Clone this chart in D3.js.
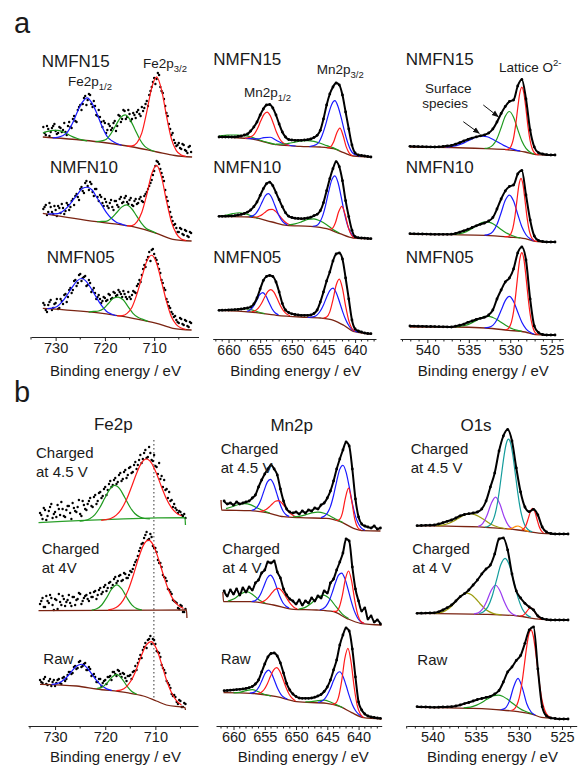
<!DOCTYPE html>
<html>
<head>
<meta charset="utf-8">
<title>XPS Fe2p / Mn2p / O1s</title>
<script src="https://cdn.jsdelivr.net/npm/d3@7"></script>
<style>
  body { margin: 0; background: #fff; }
  svg text { font-family: "Liberation Sans", Arial, sans-serif; fill: #1a1a1a; }
</style>
</head>
<body>
<script>
// ---------- tick values ----------
var feTicks = [730, 720, 710];
var feMinor = [735, 725, 715, 705];
var mnTicks = [660, 655, 650, 645, 640];
var mnMinor = [662, 661, 659, 658, 657, 656, 654, 653, 652, 651, 649, 648, 647, 646, 644, 643, 642, 641, 639, 638, 637];
var oTicks = [540, 535, 530, 525];
var oMinor = [543, 542, 541, 539, 538, 537, 536, 534, 533, 532, 531, 529, 528, 527, 526, 524];

// ---------- Fe 2p, panel a (scan 1: 732.5 -> 702.5 eV, scan 2: 732.25 -> 702.75 eV, 0.5 eV step) ----------
var feA15 = [30,22,28,25,31,26,24,29,27,25, 31,30,38,36,47,52,53,61,57,62, 50,51,41,40,30,34,27,31,29,36, 31,41,38,46,40,43,38,42,45,43, 50,49,56,62,70,79,78,82,66,58, 44,33,22,17,11,14,8,12,6,10,5];
var feA15b = [24,31,21,29,33,23,30,25,34,22, 35,29,41,35,50,47,59,52,63,53, 56,42,47,35,36,24,33,27,34,26, 42,35,47,38,47,36,44,39,47,41, 46,53,51,66,75,73,84,70,64,51, 41,28,24,14,12,9,13,7,4,11];
var feA15Bg = [[732.6,20],[721,15],[714.3,10],[709.4,5],[705.8,1.5],[702.3,0]];
var feA15Sat2 = {from: 732.6, step: 1, h: [4,6,7.5,8,7,5,3,1.5,0.5,0]};
var feA15P12 = {from: 730.6, step: 1, h: [0,1,3,7,16,28,38,43,38,28,16,7,3,1,0]};
var feA15Sat = {from: 721.9, step: 1, h: [0,1,3,9,18,27,31,27,18,9,3,1,0]};
var feA15P32 = {from: 715.5, step: 1, h: [0,1,5,16,38,63,75,63,38,16,5,1,0]};

var feA10 = [32,36,29,34,27,31,35,28,33,30, 36,34,42,45,44,52,50,58,55,59, 49,52,44,46,38,42,35,38,34,40, 36,42,38,43,39,41,36,40,37,42, 40,45,49,55,61,70,80,77,68,60, 44,34,24,16,13,9,12,6,10,4,8];
var feA10b = [34,26,38,29,35,25,33,37,27,38, 31,40,36,47,41,54,48,60,51,57, 45,52,40,44,35,39,33,41,31,40, 34,44,39,45,37,43,35,42,38,44, 39,47,52,58,66,75,79,72,64,51, 40,29,20,17,9,13,7,11,5,9];
var feA10Bg = [[732.6,27.7],[721.7,19.3],[714.3,14.3],[709.5,7.7],[706.2,1.7],[702.4,0]];
var feA10P12 = {from: 731.6, step: 1, h: [0,1,2,5,10,17,24,31,33,31,24,17,10,5,2,1,0]};
var feA10Sat = {from: 721.6, step: 1, h: [0,1,2,6,12,18,21,18,12,6,2,1,0]};
var feA10P32 = {from: 715.5, step: 1, h: [0,1,6,17,36,58,68,58,36,17,6,1,0]};

var feA05 = [27,20,25,30,22,27,21,31,26,36, 33,42,40,50,47,56,52,54,45,47, 40,37,33,31,29,32,30,35,32,37, 35,38,33,36,31,33,35,38,44,50, 55,65,70,78,80,76,70,61,50,42, 31,24,18,13,10,7,11,5,9,3,7];
var feA05b = [25,18,28,20,26,31,22,29,35,28, 40,37,49,44,55,49,53,44,50,38, 42,31,35,27,33,29,36,31,38,34, 40,36,39,33,38,31,39,37,46,48, 61,63,73,69,81,72,66,57,47,40, 28,22,16,14,8,12,6,10,4,8];
var feA05Bg = [[732.6,21.7],[721.7,17.3],[714.3,11.7],[709.5,6.7],[706.2,1.7],[702.4,0]];
var feA05P12 = {from: 731.7, step: 1, h: [0,1,3,8,15,23,30,33,30,23,15,8,3,1,0]};
var feA05Sat = {from: 723.3, step: 1, h: [0,1,2,5,11,17,19,17,11,5,2,1,0]};
var feA05P32 = {from: 717.5, step: 1, h: [0,1,4,11,25,43,60,67,60,43,25,11,4,1,0]};

// ---------- Mn 2p, panel a (data: 661.5 -> 637.5 eV, 0.5 eV step) ----------
var mnA15 = [20,20,20,20,20,20,20.5,21,22,23, 26,30,35,42,48,52,52.5,49,42,33, 25,20,17.5,17,16.7,16.7,16.7,17,17.3,18, 19.5,21.7,26.7,38,52,63,70,74,72,62, 45,28,12,4,2,1.5,1,0.5,0];
var mnA15Bg = [[661.5,20],[656.6,18.3],[652.4,12.3],[648.7,10.7],[645.5,10],[643.4,8.3],[641.8,4.3],[640.3,1],[637.4,0]];
var mnA15Sat12 = {from: 661.5, step: 1, h: [1.2,2,2.7,3,2.7,2,1.2,0.5,0.2,0]};
var mnA15Red12 = {from: 657.4, step: 0.5, h: [0,0.8,2.4,5.9,12.1,20.3,27.5,30.5,27.5,20.3,12.1,5.9,2.4,0.8,0]};
var mnA15Blue12 = {from: 657.4, step: 1, h: [0,0.3,1.5,4.2,6,4.2,1.5,0.3,0]};
var mnA15Sat32 = {from: 652.5, step: 1, h: [0.4,1,2.2,3.8,5.4,6,5.4,3.8,2.2,1,0.4]};
var mnA15Blue32 = {from: 647.2, step: 0.5, h: [0,1,2,5,12,22,34,44,48.5,44,34,22,12,5,2,1,0]};
var mnA15Red32 = {from: 644.4, step: 0.5, h: [0,1.4,6.7,17,23,17,6.7,1.4,0]};

var mnA10 = [22.4,22.4,22.5,22.6,22.7,23,23.7,24.3,25.2,26.5, 28.7,32,36.7,43.3,50,55,56.5,53,46,39, 32,26,22.5,21.2,20.5,20.2,20,20.2,20.7,21.5, 23,24.4,28,36,48,60,70,77,72,58, 38,22,8.5,2,1,0.7,0.5,0.2,0];
var mnA10Bg = [[661.5,22.4],[656.6,21.7],[653.1,16.7],[650.8,13.4],[647.1,12.4],[644.5,10],[642.4,5],[640.3,0.7],[637.4,0]];
var mnA10Sat12 = {from: 661.3, step: 1, h: [0.3,1.3,3,4,3,1.3,0.3]};
var mnA10Blue12 = {from: 656.7, step: 0.5, h: [0.5,1.7,4.7,10.1,17.6,24.6,27.5,24.6,17.6,10.1,4.7,1.7,0.5]};
var mnA10Red12 = {from: 656.1, step: 0.5, h: [0.5,1.4,3.1,5.7,8.9,11.6,12.7,11.6,8.9,5.7,3.1,1.4,0.5]};
var mnA10Sat32 = {from: 650.5, step: 1, h: [0.5,1.7,4,6.7,8,6.7,4,1.7,0.5]};
var mnA10Blue32 = {from: 646.7, step: 0.5, h: [0.4,1.4,4.3,10.9,22.2,37.2,50.5,56,50.5,37.2,22.2,10.9,4.3,1.4,0.4]};
var mnA10Red32 = {from: 644.1, step: 0.5, h: [0.4,2.4,9.5,21.4,28,21.4,9.5,2.4,0.4]};

var mnA05 = [23.7,23.8,23.9,24,24.2,24.4,24.6,25,25.5,26, 27,30,36,45,53.5,57.5,58.5,57.5,52,42, 30.5,24,21.5,20.2,19.5,19,18.7,18.7,18.7,19, 20.5,24,32,42,53,62,73,80,81,75, 56,35,14,5,3,2,1,0.5,0.3];
var mnA05Bg = [[661.3,23.7],[656.6,22],[652.4,18.7],[648.7,17],[645.5,16],[643.4,13.7],[641.8,8.7],[640.3,2.7],[637.4,0]];
var mnA05Sat12 = {from: 660.3, step: 1, h: [0.2,1,2.3,3,2.3,1,0.2]};
var mnA05Blue12 = {from: 657.1, step: 0.5, h: [0.6,2.1,5.8,11.8,18.2,21,18.2,11.8,5.8,2.1,0.6]};
var mnA05Red12 = {from: 656.3, step: 0.5, h: [0.6,1.9,4.9,9.9,16.6,22.6,25,22.6,16.6,9.9,4.9,1.9,0.6]};
var mnA05Blue32 = {from: 647.5, step: 0.5, h: [0,0.3,1,3,7,13.6,21.9,29,32,29,21.9,13.6,7,3,1,0.3,0]};
var mnA05Red32 = {from: 645, step: 0.5, h: [0.4,2,7.8,20.4,36.3,44,36.3,20.4,7.8,2,0.4]};

// ---------- O 1s, panel a (data: 542.1 -> 524.6 eV, 0.5 eV step) ----------
var oA15 = [8.7,8.5,8.4,8.3,8.2,8.1,8,8.2,8.6,9.1, 9.6,10.8,12.3,14,15.6,16.9,18.1,19.2,20.1,22, 26,33,41.5,48.5,53.5,55,69,75.5,56,25, 8,2.3,1,0.3,0,0];
var oA15Bg = [[542.1,8],[537,7.5],[533,6.3],[530.4,5.3],[528.2,3],[526.9,0.3],[525.8,0],[524.6,0]];
var oA15Surf = {from: 537.8, step: 0.5, h: [0.4,0.8,1.5,2.6,4.2,6.3,8.5,10.5,12,12.5,12,10.5,8.5,6.3,4.2,2.6,1.5,0.8,0.4]};
var oA15Mid = {from: 533.1, step: 0.5, h: [0.2,1.1,3.9,10.6,21.7,33.3,38.5,33.3,21.7,10.6,3.9,1.1,0.2]};
var oA15Lat = {from: 530.6, step: 0.25, h: [0,0.4,1.6,5,12.5,25.6,42.8,58.2,64.5,58.2,42.8,25.6,12.5,5,1.6,0.4,0]};

var oA10 = [8.3,8.2,8.1,8,7.9,7.8,7.7,7.7,7.7,7.7, 7.8,8.5,9.8,11.2,12.8,14.5,16.2,17.7,19,21, 24.5,33,43,51,55.5,57,68,71.5,47,22, 6,1.5,0.5,0,0,0];
var oA10Bg = [[542.1,7.7],[537,7.3],[533,6.7],[530.2,5],[528.2,3.3],[527,0.7],[525.8,0],[524.6,0]];
var oA10Surf = {from: 536.8, step: 0.5, h: [0.4,0.8,1.8,3.3,5.5,8.1,10.8,12.8,13.5,12.8,10.8,8.1,5.5,3.3,1.8,0.8,0.4]};
var oA10Mid = {from: 533.1, step: 0.5, h: [0.2,1.2,4.2,11.6,23.7,36.4,42,36.4,23.7,11.6,4.2,1.2,0.2]};
var oA10Lat = {from: 530.7, step: 0.25, h: [0,0.2,0.8,3,8.8,20.3,37,53.2,60,53.2,37,20.3,8.8,3,0.8,0.2,0]};

var oA05 = [9,8.9,8.8,8.7,8.6,8.5,8.4,8.3,8.2,8.1, 8,8.8,9.8,10.8,12.7,14,15.5,16.7,17.8,20, 25,36,45,53,57,66,82,88,75,36, 9,2.5,0.5,0,0,0];
var oA05Bg = [[542.1,8],[537,8],[533,7],[530.2,4.7],[528.2,3],[527,0.3],[525.8,0],[524.6,0]];
var oA05Surf = {from: 536.6, step: 0.5, h: [0.3,0.8,1.6,2.9,4.9,7.2,9.6,11.3,12,11.3,9.6,7.2,4.9,2.9,1.6,0.8,0.3]};
var oA05Mid = {from: 533.1, step: 0.5, h: [0.2,1,3.4,9.4,19.2,29.4,34,29.4,19.2,9.4,3.4,1,0.2]};
var oA05Lat = {from: 530.6, step: 0.25, h: [0.3,1,3.3,8.7,19.2,35.6,55.4,72.3,79,72.3,55.4,35.6,19.2,8.7,3.3,1,0.3]};

// ---------- Fe 2p, panel b (scan 1: 733 -> 704 eV, scan 2: 732.75 -> 704.25 eV, 0.5 eV step) ----------
var feB45 = [12,6,15,9,18,7,13,20,10,16, 8,19,12,22,14,18,11,24,16,21, 27,18,30,24,33,29,38,35,44,40, 47,43,52,46,55,50,58,53,63,60, 70,66,75,68,72,64,59,51,46,38, 35,27,24,18,17,12,13,9,7];
var feB45b = [10,17,5,14,21,11,8,16,23,9, 15,19,6,17,13,25,9,20,15,24, 19,28,21,32,27,36,30,41,38,45, 41,50,44,53,47,57,52,60,56,65, 62,72,67,78,65,70,58,62,49,45, 36,33,25,21,15,14,10,11];
var feB45Bg = [[733.3,2.3],[704.1,7.3],[704,0]];
var feB45Sat = {from: 725.1, step: 1, h: [0.1,0.6,2.2,5.9,12.8,22.2,31,34.7,31,22.2,12.8,5.9,2.2,0.6,0.1]};
var feB45P32 = {from: 720.8, step: 1, h: [0.2,0.7,2,4.9,10.5,19.6,32,45.4,56,60,56,45.4,32,19.6,10.5,4.9,2]};

var feB4 = [14,20,11,17,23,13,19,9,16,22, 12,18,15,21,13,19,24,17,22,19, 25,21,27,23,30,26,33,30,36,33, 41,37,43,38,44,40,47,49,56,62, 70,75,83,78,84,72,70,58,55,43, 40,29,26,18,16,10,13,6,9];
var feB4b = [17,11,22,15,20,8,18,24,13,19, 16,23,12,21,18,25,14,20,23,17, 21,26,19,28,24,31,27,35,30,39, 35,42,37,45,40,43,46,53,58,67, 74,80,86,79,81,70,66,55,51,41, 37,28,24,17,15,9,12,6];
var feB4Bg = [[733.3,7.3],[703.8,8],[703.7,0]];
var feB4Sat = {from: 722.7, step: 1, h: [0.3,1.6,5.4,12.8,21.4,25.5,21.4,12.8,5.4,1.6,0.3]};
var feB4P32 = {from: 719.4, step: 1, h: [0.5,1.6,4.4,10.2,20.4,35,51.5,64.8,70,64.8,51.5,35,20.4,10.2,4.4,1.6]};

var feBraw = [30,27,33,25,31,28,24,30,27,32, 29,35,38,37,44,42,49,44,47,40, 41,35,33,28,31,27,30,33,34,38, 36,40,36,37,32,34,35,38,44,47, 55,60,67,70,74,71,66,58,53,42, 37,27,22,14,13,6,9,3,6];
var feBrawb = [28,31,26,29,24,30,27,31,26,33, 31,38,36,43,41,48,43,46,40,43, 34,36,28,31,24,29,26,33,30,38, 34,39,33,36,29,34,31,39,40,51, 52,63,62,71,66,70,59,57,45,40, 29,25,16,15,8,10,3,7];
var feBrawBg = [[733,25.7],[725.7,24],[721.7,21],[715.7,17.3],[712.4,14],[709.8,9],[707.8,5],[704.1,2.3],[704,0]];
var feBrawP12 = {from: 730.7, step: 1, h: [0.4,1.4,3.8,8.3,14.4,20.1,22.5,20.1,14.4,8.3,3.8,1.4,0.4]};
var feBrawSat = {from: 721.7, step: 1, h: [0.5,2.2,6.9,13.5,17,13.5,6.9,2.2,0.5]};
var feBrawP32 = {from: 717.8, step: 1, h: [0.7,2.1,5.8,13.3,25.2,39.8,52.4,57.5,52.4,39.8,25.2,13.3,5.8,2.1]};
var feRefBE = 710.3;

// ---------- Mn 2p, panel b (data: 661.5 -> 636.5 eV, 0.5 eV step) ----------
var mnB45 = [30,27,28,26,29,27,28,29,30,33, 36,44,51,57,62,66,62,56,42,30, 22,19,18,19,17,20,18,21,20,23, 22,26,28,33,40,50,62,72,81,89, 85,62,32,14,7,5,4,3,5,2, 3];
var mnB45Bg = [[662,31],[661.9,21],[657.3,20.3],[654.7,18.3],[652,14.3],[649.3,13.3],[645.1,12.7],[642.9,9.3],[640.8,2.7],[639.2,0.3],[636.5,0]];
var mnB45Sat12 = {from: 661.2, step: 1, h: [1.5,3.5,5.9,7,5.9,3.5,1.5,0.4]};
var mnB45Blue12 = {from: 657.1, step: 0.5, h: [0.6,2.1,5.8,12.6,22,30.7,34.3,30.7,22,12.6,5.8,2.1,0.6]};
var mnB45Red12 = {from: 655.8, step: 0.5, h: [0.5,1.4,3.2,6.3,10.1,13.5,14.8,13.5,10.1,6.3,3.2,1.4,0.5]};
var mnB45Sat32 = {from: 650.5, step: 1, h: [0.4,1.3,3,5,6,5,3,1.3,0.4]};
var mnB45Blue32 = {from: 646, step: 0.5, h: [0.6,1.9,5.4,12.6,24.5,39.5,52.4,57.7,52.4,39.5,24.5,12.6,5.4,1.9,0.6]};
var mnB45Red32 = {from: 643.6, step: 0.5, h: [0.1,1.6,9.2,26.4,37.7,26.4,9.2,1.6,0.1]};

var mnB4 = [34,29,35,31,36,30,37,33,38,35, 42,45,52,55,63,62,64,53,47,36, 30,26,24,21,25,20,24,22,27,24, 29,27,34,32,42,46,55,63,72,86, 84,58,36,24,14,17,6,9,3,5, 1];
var mnB4Bg = [[661.7,33],[661.6,23.3],[657.3,23.3],[653.6,20],[650.4,15.7],[646.7,15],[644,13.3],[641.9,6.7],[639.7,1.7],[636.3,0]];
var mnB4Sat12 = {from: 660.9, step: 1, h: [0.6,2.9,7.4,10,7.4,2.9,0.6]};
var mnB4Blue12 = {from: 657.1, step: 0.5, h: [0.4,1.5,4.3,10,18.2,26.1,29.5,26.1,18.2,10,4.3,1.5,0.4]};
var mnB4Red12 = {from: 655.8, step: 0.5, h: [0.7,1.9,4.3,8,12.4,16.2,17.7,16.2,12.4,8,4.3,1.9,0.7]};
var mnB4Sat32 = {from: 649.6, step: 1, h: [0.4,2,6.3,12.4,15.5,12.4,6.3,2,0.4]};
var mnB4Blue32 = {from: 646.2, step: 0.5, h: [0.5,1.8,4.7,10.4,19.2,29.9,39,42.7,39,29.9,19.2,10.4,4.7,1.8,0.5]};
var mnB4Red32 = {from: 644.1, step: 0.5, h: [0.2,1.6,7,20.4,38.7,48,38.7,20.4,7,1.6,0.2]};

var mnBraw = [28.3,28.5,28.8,29.1,29.4,29.7,30.1,30.6,31.3,32.5, 35,39,47,55,62,65.5,66,63,56,46, 35.5,29,25,22.5,21,20.7,20.7,20.7,21,21.8, 23,24.5,27.5,32,39,49,59,74,84,91, 88,70,42,17,9,5,3,2,1.5,1, 0.7];
var mnBrawBg = [[661.6,26.3],[657.3,25.7],[653.1,22.3],[649.9,17.3],[645.1,15.7],[642.9,12.3],[641.1,6.3],[639.2,1.3],[636.3,0]];
var mnBrawSat12 = {from: 660, step: 1, h: [0.1,0.7,2.6,4,2.6,0.7,0.1]};
var mnBrawBlue12 = {from: 657.4, step: 0.5, h: [0.2,1,3.2,7.9,15.2,22.4,25.6,22.4,15.2,7.9,3.2,1,0.2]};
var mnBrawRed12 = {from: 656.1, step: 0.5, h: [0.7,2.2,5.6,11.5,19.3,26.2,29,26.2,19.3,11.5,5.6,2.2,0.7]};
var mnBrawSat32 = {from: 648.5, step: 1, h: [0.2,1,2.2,3,2.2,1,0.2]};
var mnBrawBlue32 = {from: 646.5, step: 0.5, h: [0.4,1.5,3.8,8.5,15.7,24.4,31.8,34.8,31.8,24.4,15.7,8.5,3.8,1.5,0.4]};
var mnBrawRed32 = {from: 644.2, step: 0.5, h: [0.3,2.1,9.1,26.5,50.3,62.3,50.3,26.5,9.1,2.1,0.3]};

// ---------- O 1s, panel b (data: 541.8 -> 524.3 eV, 0.5 eV step) ----------
var oB45 = [8.3,8.5,8.7,8.8,9,10,11.3,12.7,14,16, 18.2,19.5,20.3,21,22,25,33,47,61,83, 98,104.5,93,66,42,27,22.3,24.7,19,7, 2,0.5,0,0,0,0];
var oB45Bg = [[541.9,8.3],[533.9,6.7],[530.1,4],[527.4,0.7],[524.3,0]];
var oB45Olive = {from: 539.6, step: 0.5, h: [0.4,0.8,1.7,3.2,5.3,7.9,10.5,12.5,13.2,12.5,10.5,7.9,5.3,3.2,1.7,0.8,0.4]};
var oB45Purple = {from: 534.7, step: 0.5, h: [0.7,3.6,11.9,24.4,31,24.4,11.9,3.6,0.7]};
var oB45Teal = {from: 533.95, step: 0.25, h: [0.3,0.7,1.9,4.2,8.6,16,27.1,41.8,58.4,74.3,85.8,90,85.8,74.3,58.4,41.8,27.1,16,8.6,4.2,1.9,0.7,0.3]};
var oB45Orange = {from: 531.35, step: 0.25, h: [0.1,0.4,1.1,2.3,3.5,4,3.5,2.3,1.1,0.4,0.1]};
var oB45Red = {from: 529.65, step: 0.25, h: [0.6,2.4,6.5,13.4,20.5,23.7,20.5,13.4,6.5,2.4,0.6]};

var oB4 = [6.7,6.8,6.9,7,7.2,8.2,10,12.3,15,19, 23.3,26.3,30,35,40,46,51,55,66,81, 82,70,46,29,22,16.7,13,10,4,1.5, 0.5,0,0,0,0,0];
var oB4Bg = [[541.9,6.7],[533.9,5.7],[530.1,4],[527.4,0.7],[524.3,0]];
var oB4Olive = {from: 540, step: 0.5, h: [0.1,0.5,1.3,3.1,6.1,10.5,15.4,19.4,21,19.4,15.4,10.5,6.1,3.1,1.3,0.5,0.1]};
var oB4Purple = {from: 535.2, step: 0.5, h: [0.2,1.4,5.3,13.7,24.4,29.6,24.4,13.7,5.3,1.4,0.2]};
var oB4Teal = {from: 534.6, step: 0.5, h: [0.6,2.5,7.6,18.4,34.5,50.3,57,50.3,34.5,18.4,7.6,2.5,0.6]};
var oB4Red = {from: 529.85, step: 0.25, h: [0.3,1,2.8,5.6,8.7,10,8.7,5.6,2.8,1,0.3]};

var oBraw = [12.3,12.1,12,11.8,11.7,11.8,12,12.1,12.3,13, 14,15.4,16.5,18,19.5,20.5,21.6,22.6,25,28.5, 37,47,52,58.5,63.5,75.7,89,92,50,12.3, 3,1,0.5,0,0,0];
var oBrawBg = [[541.8,11.7],[535.8,10.7],[532,9],[530.1,7.3],[528.5,5],[527.4,1.7],[524.3,0]];
var oBrawGreen = {from: 536.4, step: 0.5, h: [0.4,0.9,1.9,3.6,6,8.8,11.7,13.9,14.7,13.9,11.7,8.8,6,3.6,1.9,0.9,0.4]};
var oBrawBlue = {from: 532.1, step: 0.5, h: [0.2,2.1,9.7,24.5,33.4,24.5,9.7,2.1,0.2]};
var oBrawRed = {from: 530.85, step: 0.25, h: [0.6,1.8,4.5,9.7,18.8,32.2,49,66.1,79.1,84,79.1,66.1,49,32.2,18.8,9.7,4.5,1.8,0.6]};

// ---------- colours ----------
var RED = "#ff1a1a", BLUE = "#1a1aff", GREEN = "#1f9a1f", BROWN = "#7a2412",
    TEAL = "#139c9c", PURPLE = "#9a3cf0", OLIVE = "#9c9c10", ORANGE = "#ff8c00", LGREEN = "#2aa02a";

var W = 587, H = 769;
var svg = d3.select("body").append("svg").attr("width", W).attr("height", H);

svg.append("defs").append("marker")
  .attr("id", "arr").attr("viewBox", "0 0 10 10").attr("refX", 9).attr("refY", 5)
  .attr("markerWidth", 7).attr("markerHeight", 7).attr("orient", "auto")
  .append("path").attr("d", "M0,1L10,5L0,9z").attr("fill", "#111");

var panels = [
  { be: [735, 701], x0: 31, x1: 198.5, axisY: 337, ticks: feTicks, minor: feMinor, tf: 14.5, tx: 115.5, ty: 376, lineData: false,
    spectra: [
      { off: 180, start: 732.5, data: feA15, data2: feA15b, bg: feA15Bg, bgc: BROWN, lab: [["NMFN15", 41.7, 66.5]],
        comps: [[feA15Sat2, GREEN], [feA15P12, BLUE], [feA15Sat, GREEN], [feA15P32, RED]] },
      { off: 96, start: 732.5, data: feA10, data2: feA10b, bg: feA10Bg, bgc: BROWN, lab: [["NMFN10", 50, 173.3]],
        comps: [[feA10P12, BLUE], [feA10Sat, GREEN], [feA10P32, RED]] },
      { off: 7, start: 732.5, data: feA05, data2: feA05b, bg: feA05Bg, bgc: BROWN, lab: [["NMFN05", 46.7, 263]],
        comps: [[feA05P12, BLUE], [feA05Sat, GREEN], [feA05P32, RED]] }
    ] },
  { be: [662.5, 636.7], x0: 212.7, x1: 376, axisY: 339, ticks: mnTicks, minor: mnMinor, tf: 14, tx: 295.8, ty: 376, lineData: true,
    spectra: [
      { off: 182, start: 661.5, data: mnA15, bg: mnA15Bg, bgc: BROWN, lab: [["NMFN15", 213.3, 65]],
        comps: [[mnA15Sat12, GREEN], [mnA15Blue12, BLUE], [mnA15Red12, RED], [mnA15Sat32, GREEN], [mnA15Blue32, BLUE], [mnA15Red32, RED]] },
      { off: 100.3, start: 661.5, data: mnA10, bg: mnA10Bg, bgc: BROWN, lab: [["NMFN10", 213.3, 173]],
        comps: [[mnA10Sat12, GREEN], [mnA10Red12, RED], [mnA10Blue12, BLUE], [mnA10Sat32, GREEN], [mnA10Blue32, BLUE], [mnA10Red32, RED]] },
      { off: 5, start: 661.5, data: mnA05, bg: mnA05Bg, bgc: BROWN, lab: [["NMFN05", 213.3, 263]],
        comps: [[mnA05Sat12, GREEN], [mnA05Blue12, BLUE], [mnA05Red12, RED], [mnA05Blue32, BLUE], [mnA05Red32, RED]] }
    ] },
  { be: [543.3, 523.6], x0: 400, x1: 563.3, axisY: 339, ticks: oTicks, minor: oMinor, tf: 14.5, tx: 483.3, ty: 376, lineData: true,
    spectra: [
      { off: 184, start: 542.1, data: oA15, bg: oA15Bg, bgc: BROWN, lab: [["NMFN15", 405.7, 65]],
        comps: [[oA15Surf, BLUE], [oA15Mid, GREEN], [oA15Lat, RED]] },
      { off: 97, start: 542.1, data: oA10, bg: oA10Bg, bgc: BROWN, lab: [["NMFN10", 405.7, 173]],
        comps: [[oA10Surf, GREEN], [oA10Mid, BLUE], [oA10Lat, RED]] },
      { off: 4, start: 542.1, data: oA05, bg: oA05Bg, bgc: BROWN, lab: [["NMFN05", 405.7, 263]],
        comps: [[oA05Surf, GREEN], [oA05Mid, BLUE], [oA05Lat, RED]] }
    ] },
  { be: [735.4, 701.5], x0: 28, x1: 198, axisY: 726, ticks: feTicks, minor: feMinor, tf: 14.5, tx: 115.5, ty: 762, lineData: false,
    title: ["Fe2p", 113.3, 430], ref: feRefBE,
    spectra: [
      { off: 201, start: 733, data: feB45, data2: feB45b, bg: feB45Bg, bgc: LGREEN, lab: [["Charged", 36, 458.3], ["at 4.5 V", 36, 476.7]],
        comps: [[feB45Sat, GREEN], [feB45P32, RED]] },
      { off: 108, start: 733, data: feB4, data2: feB4b, bg: feB4Bg, bgc: BROWN, lab: [["Charged", 41.7, 554], ["at 4V", 41.7, 572.7]],
        comps: [[feB4Sat, GREEN], [feB4P32, RED]] },
      { off: 16, start: 733, data: feBraw, data2: feBrawb, bg: feBrawBg, bgc: BROWN, lab: [["Raw", 43.3, 664]],
        comps: [[feBrawP12, BLUE], [feBrawSat, GREEN], [feBrawP32, RED]] }
    ] },
  { be: [662.8, 636.3], x0: 216, x1: 381.7, axisY: 726, ticks: mnTicks, minor: mnMinor, tf: 14.5, tx: 303.3, ty: 762, lineData: true,
    title: ["Mn2p", 291.7, 430.7],
    spectra: [
      { off: 195, start: 661.5, data: mnB45, bg: mnB45Bg, bgc: BROWN, lab: [["Charged", 220.7, 454], ["at 4.5 V", 220.7, 473.3]],
        comps: [[mnB45Sat12, GREEN], [mnB45Blue12, BLUE], [mnB45Red12, RED], [mnB45Sat32, GREEN], [mnB45Blue32, BLUE], [mnB45Red32, RED]] },
      { off: 101, start: 661.5, data: mnB4, bg: mnB4Bg, bgc: BROWN, lab: [["Charged", 222.3, 554], ["at 4 V", 222.3, 572.7]],
        comps: [[mnB4Sat12, GREEN], [mnB4Blue12, BLUE], [mnB4Red12, RED], [mnB4Sat32, GREEN], [mnB4Blue32, BLUE], [mnB4Red32, RED]] },
      { off: 7, start: 661.5, data: mnBraw, bg: mnBrawBg, bgc: BROWN, lab: [["Raw", 220.7, 664]],
        comps: [[mnBrawSat12, GREEN], [mnBrawBlue12, BLUE], [mnBrawRed12, RED], [mnBrawSat32, GREEN], [mnBrawBlue32, BLUE], [mnBrawRed32, RED]] }
    ] },
  { be: [543, 523.3], x0: 406.7, x1: 576.7, axisY: 726, ticks: oTicks, minor: oMinor, tf: 14.5, tx: 492.5, ty: 762, lineData: true,
    title: ["O1s", 476, 430.7],
    spectra: [
      { off: 192, start: 541.8, data: oB45, bg: oB45Bg, bgc: BROWN, lab: [["Charged", 410.7, 454], ["at 4.5 V", 410.7, 473.3]],
        comps: [[oB45Olive, OLIVE], [oB45Purple, PURPLE], [oB45Teal, TEAL], [oB45Orange, ORANGE], [oB45Red, RED]] },
      { off: 106, start: 541.8, data: oB4, bg: oB4Bg, bgc: BROWN, lab: [["Charged", 412.3, 554], ["at 4 V", 412.3, 572.7]],
        comps: [[oB4Olive, OLIVE], [oB4Purple, PURPLE], [oB4Teal, TEAL], [oB4Red, RED]] },
      { off: 7, start: 541.8, data: oBraw, bg: oBrawBg, bgc: BROWN, lab: [["Raw", 417.3, 665]],
        comps: [[oBrawGreen, GREEN], [oBrawBlue, BLUE], [oBrawRed, RED]] }
    ] }
];

panels.forEach(function(p) {
  var x = d3.scaleLinear().domain(p.be).range([p.x0, p.x1]);
  var y = d3.scaleLinear().domain([0, 300]).range([p.axisY, p.axisY - 300]);
  var g = svg.append("g");

  var axis = d3.axisBottom(x).tickValues(p.ticks).tickFormat(d3.format("d"))
    .tickSize(4).tickSizeOuter(0).tickPadding(2);
  var ga = g.append("g").attr("transform", "translate(0," + p.axisY + ")").call(axis);
  ga.select(".domain").attr("stroke", "#222");
  ga.selectAll(".tick line").attr("stroke", "#222");
  ga.selectAll("text").attr("font-size", p.tf).attr("fill", "#1a1a1a")
    .attr("font-family", "Liberation Sans, Arial, sans-serif");
  g.append("g").selectAll("line").data(p.minor).enter().append("line")
    .attr("x1", x).attr("x2", x).attr("y1", p.axisY).attr("y2", p.axisY + 2.5)
    .attr("stroke", "#222");
  g.append("text").attr("x", p.tx).attr("y", p.ty).attr("text-anchor", "middle")
    .attr("font-size", 15).text("Binding energy / eV");

  if (p.title) {
    g.append("text").attr("x", p.title[1]).attr("y", p.title[2]).attr("text-anchor", "middle")
      .attr("font-size", 17).text(p.title[0]);
  }
  if (p.ref) {
    g.append("line").attr("x1", x(p.ref)).attr("x2", x(p.ref)).attr("y1", 440).attr("y2", 698)
      .attr("stroke", "#555").attr("stroke-width", 1.2).attr("stroke-dasharray", "1.5,2.5");
  }

  p.spectra.forEach(function(s) {
    var bgf = d3.scaleLinear().domain(s.bg.map(function(d) { return d[0]; }))
      .range(s.bg.map(function(d) { return d[1]; })).clamp(true);
    var line = d3.line()
      .x(function(d) { return x(d[0]); })
      .y(function(d) { return y(d[1] + s.off); })
      .curve(d3.curveMonotoneX);
    var pts = s.data.map(function(v, i) { return [s.start - i * 0.5, v]; });
    if (s.data2) {
      pts = pts.concat(s.data2.map(function(v, i) { return [s.start - 0.25 - i * 0.5, v]; }));
    }

    function drawData() {
      if (p.lineData) {
        g.append("path").datum(pts).attr("d", line).attr("fill", "none")
          .attr("stroke", "#000").attr("stroke-width", 2);
      }
      g.append("g").selectAll("circle").data(pts).enter().append("circle")
        .attr("cx", function(d) { return x(d[0]); })
        .attr("cy", function(d) { return y(d[1] + s.off); })
        .attr("r", p.lineData ? 1.4 : 1.2).attr("fill", "#000");
    }

    if (!p.lineData) drawData();

    g.append("path").datum(s.bg).attr("d", line).attr("fill", "none")
      .attr("stroke", s.bgc).attr("stroke-width", 1.3);

    s.comps.forEach(function(c) {
      var cp = c[0].h.map(function(v, i) {
        var be = c[0].from - i * c[0].step;
        return [be, bgf(be) + v];
      });
      g.append("path").datum(cp).attr("d", line).attr("fill", "none")
        .attr("stroke", c[1]).attr("stroke-width", 1.2);
    });

    if (p.lineData) drawData();

    s.lab.forEach(function(l) {
      g.append("text").attr("x", l[1]).attr("y", l[2])
        .attr("font-size", p.title ? 15 : 17).text(l[0]);
    });
  });
});

// ---------- peak annotations ----------
function subLabel(txt, sub, xPos, yPos, sup) {
  var t = svg.append("text").attr("x", xPos).attr("y", yPos).attr("font-size", 13.5);
  t.append("tspan").text(txt);
  t.append("tspan").attr("font-size", 9.5).attr("dy", sup ? -6 : 4).text(sub);
}
subLabel("Fe2p", "1/2", 68, 86);
subLabel("Fe2p", "3/2", 143, 68);
subLabel("Mn2p", "1/2", 244, 97);
subLabel("Mn2p", "3/2", 316.7, 74);
subLabel("Lattice O", "2-", 499, 71.7, true);

svg.append("text").attr("x", 425).attr("y", 92.7).attr("font-size", 13.5).text("Surface");
svg.append("text").attr("x", 422.3).attr("y", 108.3).attr("font-size", 13.5).text("species");
svg.append("line").attr("x1", 483.3).attr("y1", 105).attr("x2", 498.3).attr("y2", 116.7)
  .attr("stroke", "#111").attr("stroke-width", 1).attr("marker-end", "url(#arr)");
svg.append("line").attr("x1", 463.3).attr("y1", 121.7).attr("x2", 479.3).attr("y2", 133.3)
  .attr("stroke", "#111").attr("stroke-width", 1).attr("marker-end", "url(#arr)");

svg.append("text").attr("x", 14).attr("y", 33).attr("font-size", 29).text("a");
svg.append("text").attr("x", 14).attr("y", 401.7).attr("font-size", 29).text("b");
</script>
</body>
</html>
